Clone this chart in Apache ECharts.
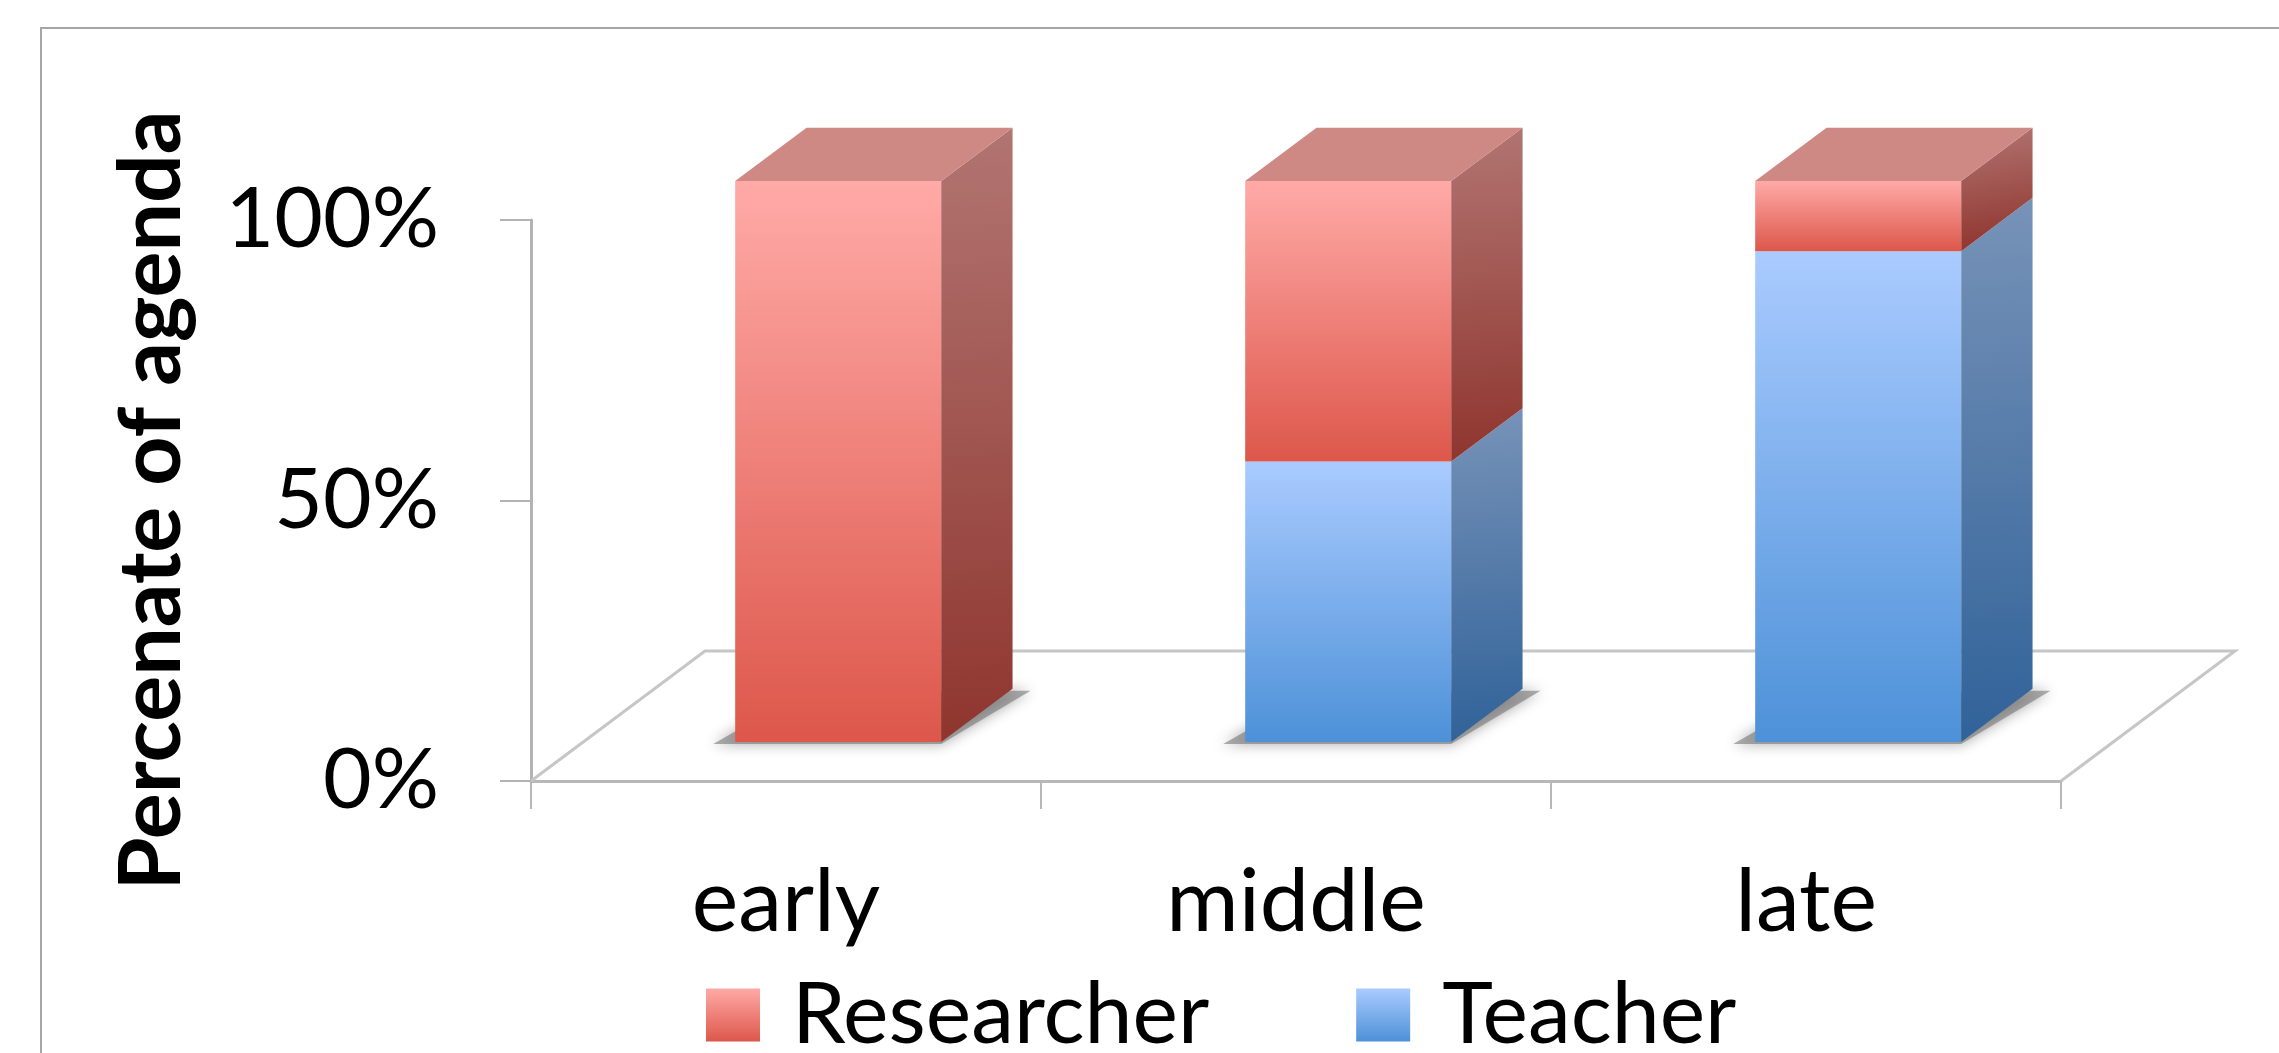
<!DOCTYPE html>
<html><head><meta charset="utf-8">
<script src="https://cdn.jsdelivr.net/npm/echarts@6/dist/echarts.min.js"></script>
<style>html,body{margin:0;padding:0;background:#fff}#c{width:2279px;height:1053px}</style>
</head><body><div id="c"></div>
<script>
// ---- data ----
const categories = ['early', 'middle', 'late'];
const seriesNames = ['Researcher', 'Teacher'];
const teacherValues = [0, 50, 87.5];
const researcherValues = [100, 50, 12.5];
const yTickValues = [0, 50, 100];

// ---- 3D look (styles) ----
const FLOOR_DX = 174, FLOOR_DY = -130;
const FRONT_T = 0.3, DEPTH_T = 0.41;
const BAR_W_FRAC = 0.404;

function grad(c1, c2, x2, y2) {
  return new echarts.graphic.LinearGradient(0, 0, x2 == null ? 0 : x2, y2 == null ? 1 : y2,
    [{offset: 0, color: c1}, {offset: 1, color: c2}]);
}
const palette = {
  Researcher: {front: ['#ffaaa7', '#dd574b'], side: ['#b27572', '#8f352e'], top: '#cf8985'},
  Teacher: {front: ['#aacbff', '#4d91d8'], side: ['#7893b8', '#306299'], top: '#7b9fd0'}
};

const teacherBase = categories.map(() => 0);
const researcherBase = teacherValues.slice();
function barData(base, vals) { return vals.map((v, i) => [i, base[i], base[i] + v]); }
const dataBySeries = {
  Teacher: barData(teacherBase, teacherValues),
  Researcher: barData(researcherBase, researcherValues)
};
function isTop(name, i) {
  if (name === 'Researcher') return researcherValues[i] > 0;
  return researcherValues[i] === 0;
}

function makeRender(name) {
  return function (params, api) {
    const i = api.value(0), b = api.value(1), t = api.value(2);
    if (!(t - b > 0)) return null;
    const band = api.size([1, 0])[0];
    const fdx = FLOOR_DX * FRONT_T, fdy = FLOOR_DY * FRONT_T;
    const ddx = FLOOR_DX * DEPTH_T, ddy = FLOOR_DY * DEPTH_T;
    const pb = api.coord([i, b]), pt = api.coord([i, t]);
    const w = band * BAR_W_FRAC;
    const xl = pb[0] - w / 2 + fdx, xr = xl + w;
    const yb = pb[1] + fdy, yt = pt[1] + fdy;
    const pal = palette[name];
    const children = [];
    if (b === 0) {
      children.push({
        type: 'polygon',
        shape: {points: [[xl - 22, yb + 2], [xr, yb + 2], [xr + ddx + 18, yb + ddy + 2], [xl + ddx, yb + ddy + 2]]},
        style: {fill: 'rgba(110,110,110,0.55)', shadowBlur: 14, shadowColor: 'rgba(80,80,80,0.9)'}
      });
    }
    children.push({
      type: 'rect',
      shape: {x: xl, y: yt, width: w, height: yb - yt},
      style: {fill: grad(pal.front[0], pal.front[1])}
    });
    children.push({
      type: 'polygon',
      shape: {points: [[xr, yb], [xr + ddx, yb + ddy], [xr + ddx, yt + ddy], [xr, yt]]},
      style: {fill: grad(pal.side[0], pal.side[1], 0.3, 1)}
    });
    if (isTop(name, i)) {
      children.push({
        type: 'polygon',
        shape: {points: [[xl, yt], [xr, yt], [xr + ddx, yt + ddy], [xl + ddx, yt + ddy]]},
        style: {fill: pal.top}
      });
    }
    return {type: 'group', children: children};
  };
}

const chart = echarts.init(document.getElementById('c'), null, {renderer: 'canvas'});
const font = 'Lato';
chart.setOption({
  animation: false,
  backgroundColor: '#fff',
  graphic: [{
    type: 'rect', z: -10, silent: true,
    shape: {x: 41, y: 28, width: 2400, height: 1200},
    style: {stroke: '#a6a6a6', lineWidth: 2, fill: null}
  }],
  grid: {left: 531, right: 218, top: 220, bottom: 272},
  legend: {
    data: seriesNames, left: 701, top: 967, itemWidth: 54, itemHeight: 53, itemGap: 147,
    icon: 'rect',
    textStyle: {fontFamily: font, fontSize: 86, color: '#000', lineHeight: 53, padding: [0, 0, 0, 27]}
  },
  xAxis: {
    type: 'category', data: categories,
    axisLine: {show: true, lineStyle: {color: '#b8b8b8', width: 3}},
    axisTick: {show: true, length: 28, lineStyle: {color: '#b8b8b8', width: 2}},
    axisLabel: {fontFamily: font, fontSize: 88, color: '#000', margin: 78},
    splitLine: {show: false}
  },
  yAxis: {
    type: 'value', min: 0, max: 100, interval: 50,
    name: 'Percenate of agenda', nameLocation: 'middle', nameGap: 336,
    nameTextStyle: {fontFamily: font, fontWeight: 'bold', fontSize: 86, color: '#000'},
    axisLine: {show: true, lineStyle: {color: '#b3b3b3', width: 3}},
    axisTick: {show: true, length: 31, lineStyle: {color: '#b3b3b3', width: 2}},
    axisLabel: {
      fontFamily: font, fontSize: 84, color: '#000', margin: 92,
      formatter: v => (yTickValues.indexOf(v) >= 0 ? v + '%' : '')
    },
    splitLine: {show: false}
  },
  series: [
    {
      type: 'custom', name: 'floor', silent: true, z: 1, data: [[0, 0]],
      encode: {x: 0, y: 1},
      renderItem: function (params, api) {
        const cs = params.coordSys;
        const x0 = cs.x, x1 = cs.x + cs.width, y0 = cs.y + cs.height;
        return {
          type: 'polyline',
          shape: {points: [[x0, y0], [x0 + FLOOR_DX, y0 + FLOOR_DY], [x1 + FLOOR_DX, y0 + FLOOR_DY], [x1, y0]]},
          style: {stroke: '#c6c6c6', lineWidth: 3, fill: null}
        };
      }
    },
    {
      type: 'custom', name: 'Teacher', z: 2, data: dataBySeries.Teacher,
      encode: {x: 0, y: [1, 2]},
      itemStyle: {color: grad(palette.Teacher.front[0], palette.Teacher.front[1])},
      renderItem: makeRender('Teacher')
    },
    {
      type: 'custom', name: 'Researcher', z: 2, data: dataBySeries.Researcher,
      encode: {x: 0, y: [1, 2]},
      itemStyle: {color: grad(palette.Researcher.front[0], palette.Researcher.front[1])},
      renderItem: makeRender('Researcher')
    }
  ]
});
</script>
</body></html>
